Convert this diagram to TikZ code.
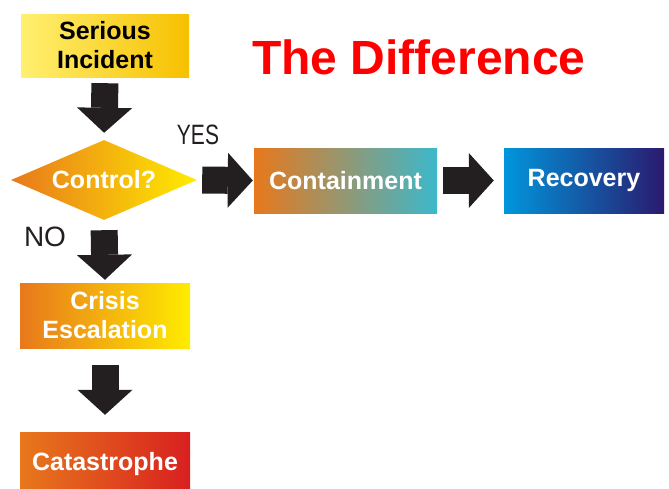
\documentclass[tikz,border=0pt]{standalone}
\usepackage{fontspec}
\setmainfont{Liberation Sans}
\usetikzlibrary{shapes.geometric,arrows.meta}

\definecolor{arrowgray}{HTML}{231F20}
\definecolor{lightyel}{HTML}{FFF070}
\definecolor{deepyel}{HTML}{F7C000}
\definecolor{brightyel}{HTML}{FFEC00}
\definecolor{orng}{HTML}{E8781C}
\definecolor{teal}{HTML}{3CB8CC}
\definecolor{skyblue}{HTML}{0096DC}
\definecolor{navy}{HTML}{2A1A6E}
\definecolor{crimson}{HTML}{D82020}

\tikzset{
  box/.style={rectangle, inner sep=0pt, align=center, font=\bfseries\fontsize{25}{29}\selectfont, text=white},
  diam/.style={diamond, aspect=2.3, inner sep=0pt, font=\bfseries\fontsize{25}{29}\selectfont, text=white},
  blk/.style={arrowgray, line width=27pt, -{Triangle[length=25pt,width=55pt,line width=0pt 0 0]}},
  lbl/.style={font=\fontsize{28}{30}\selectfont, text=arrowgray}
}

\begin{document}
\begin{tikzpicture}[x=1pt,y=-1pt]
    \useasboundingbox (0,0) rectangle (669,488);

    % Title
    \node (title) at (419,57) {\color{red}\bfseries\fontsize{48}{52}\selectfont The Difference};

    % Boxes
    \node[box, text=black, minimum width=168pt, minimum height=63pt, left color=lightyel, right color=deepyel] (inc) at (105,45.5) {Serious\\Incident};
    \node[diam, minimum width=186pt, minimum height=80pt, left color=orng, right color=brightyel] (ctrl) at (104,180) {Control?};
    \node[box, minimum width=183pt, minimum height=65pt, left color=orng, right color=teal] (cont) at (345.5,180.5) {Containment};
    \node[box, minimum width=160pt, minimum height=65pt, left color=skyblue, right color=navy] (rec) at (584,180.5) {Recovery};
    \node[box, minimum width=170pt, minimum height=65pt, left color=orng, right color=brightyel] (esc) at (105,315.5) {Crisis\\Escalation};
    \node[box, minimum width=170pt, minimum height=65pt, left color=orng, right color=crimson] (cat) at (105,464.5) {Catastrophe};

    % Labels
    \node[lbl, xscale=0.75] (yes) at (198,135) {YES};
    \node[lbl] (no) at (45,237) {NO};

    % Arrows
    \draw[blk, shorten <=6pt, shorten >=7pt] (inc.south) -- (ctrl.north);
    \draw[blk, shorten <=5pt, shorten >=1pt] (ctrl.east) -- (cont.west);
    \draw[blk, shorten <=6pt, shorten >=10pt] (cont.east) -- (rec.west);
    \draw[blk, shorten <=10pt, shorten >=3pt] (ctrl.south) -- (esc.north);
    \draw[blk, shorten <=17pt, shorten >=17pt] (esc.south) -- (cat.north);
\end{tikzpicture}
\end{document}
